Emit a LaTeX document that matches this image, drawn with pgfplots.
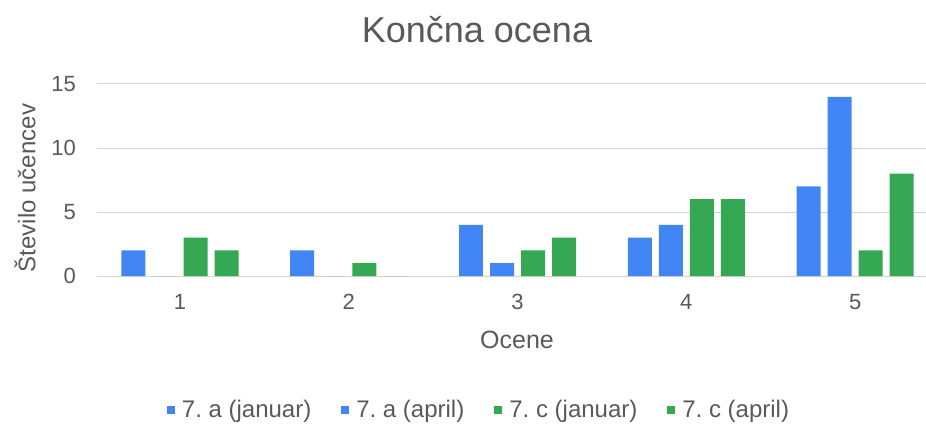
\documentclass[border=0pt]{standalone}
\usepackage{fontspec}
\setmainfont{Liberation Sans}
\usepackage{pgfplots}
\pgfplotsset{compat=1.18}
\frenchspacing
\definecolor{gblue}{HTML}{4285F4}
\definecolor{ggreen}{HTML}{34A853}
\definecolor{txt}{HTML}{595959}
\definecolor{gridc}{HTML}{D4D4D4}
\pgfplotsset{sq/.style={legend image code/.code={\fill[##1] (0pt,-4pt) rectangle (8pt,4pt);}}}
\begin{document}
\frenchspacing
\begin{tikzpicture}
\path[use as bounding box] (-97pt,-147pt) rectangle (829pt,276pt);
\begin{axis}[
  at={(0,0)}, anchor=south west,
  scale only axis, width=829pt, height=192pt,
  ybar,
  xmin=0.508, xmax=5.42, ymin=0, ymax=15,
  xtick={1,2,3,4,5}, ytick={0,5,10,15},
  axis line style={draw=none},
  major tick length=0pt,
  ymajorgrids, grid style={gridc, line width=1pt},
  /pgf/number format/assume math mode=true,
  ticklabel style={font=\fontsize{22}{26}\selectfont, text=txt},
  yticklabel style={anchor=east, inner sep=0pt, xshift=-21pt},
  xticklabel style={anchor=north, inner sep=0pt, yshift=-18pt},
  clip=false,
  legend columns=4,
  legend style={at={(axis description cs:0.4596,-0.698)}, anchor=center, draw=none, fill=none,
    font=\fontsize{24}{28}\selectfont\frenchspacing, text=txt,
    nodes={inner sep=0pt},
    /tikz/every odd column/.append style={column sep=7pt},
    /tikz/every even column/.append style={column sep=30pt}},
]
\addplot[fill=gblue, draw=none, bar width=0.142, bar shift=-0.276, sq] coordinates {(1,2) (2,2) (3,4) (4,3) (5,7)};
\addplot[fill=gblue, draw=none, bar width=0.142, bar shift=-0.092, sq] coordinates {(1,0) (2,0) (3,1) (4,4) (5,14)};
\addplot[fill=ggreen, draw=none, bar width=0.142, bar shift=0.092, sq] coordinates {(1,3) (2,1) (3,2) (4,6) (5,2)};
\addplot[fill=ggreen, draw=none, bar width=0.142, bar shift=0.276, sq] coordinates {(1,2) (2,0) (3,3) (4,6) (5,8)};
\legend{7. a (januar), 7. a (april), 7. c (januar), 7. c (april)}
\end{axis}
\node[text=txt, font=\fontsize{36}{40}\selectfont] at (380pt,246pt) {Končna ocena};
\node[text=txt, font=\fontsize{24}{28}\selectfont, rotate=90] at (-72pt,88pt) {Število učencev};
\node[text=txt, font=\fontsize{25}{29}\selectfont] at (420pt,-64pt) {Ocene};
\end{tikzpicture}
\end{document}
